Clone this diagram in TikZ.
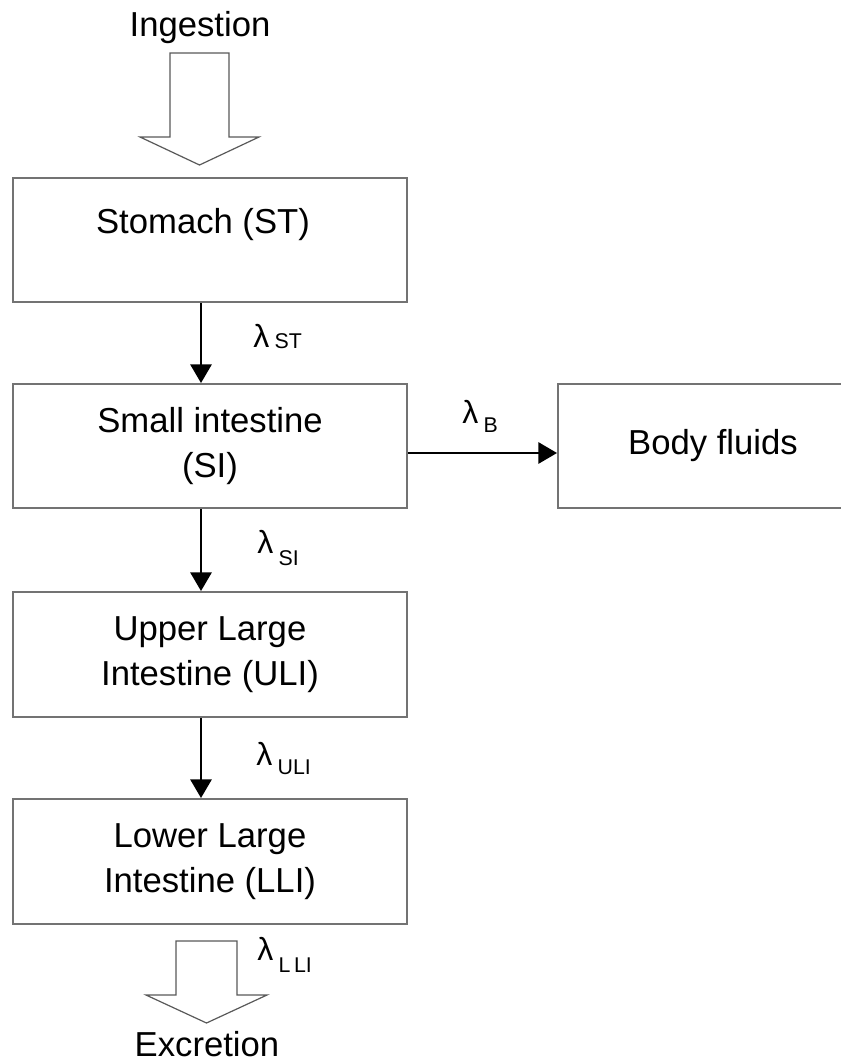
\documentclass[tikz,border=0pt]{standalone}
\usepackage{fontspec}
\setmainfont{Liberation Sans}
\usetikzlibrary{arrows.meta}
\newcommand{\lamsub}[2][7pt]{{\fontsize{24}{28}\selectfont λ}\hspace{4pt}\raisebox{-#1}{\fontsize{16}{18}\selectfont #2}}

\begin{document}
\begin{tikzpicture}[x=0.75pt,y=-0.75pt,
  box/.style={rectangle,draw=black!55,line width=1.5pt,minimum width=295.5pt,
    minimum height=93pt,inner sep=0pt,align=center,font=\fontsize{26}{33.75}\selectfont},
  txt/.style={inner sep=0pt,font=\fontsize{26}{33.75}\selectfont},
  rate/.style={inner sep=0pt,anchor=base west},
  flow/.style={line width=1.5pt,-{Triangle[length=14pt,width=16pt]}},
  hollow/.style={draw=black!65,line width=0.9pt,fill=white}]
  \useasboundingbox (0,0) rectangle (840,1063);

  \node[box] (st) at (210,240) {};
  \node[txt] (sttxt) at (203,225) {Stomach (ST)};
  \node[box] (si) at (210,446) {Small intestine\\(SI)};
  \node[box,minimum width=232.5pt] (bf) at (713,446) {Body fluids};
  \node[box,minimum height=93.75pt] (uli) at (210,654.5) {Upper Large\\Intestine (ULI)};
  \node[box,minimum height=93.75pt] (lli) at (210,861.5) {Lower Large\\Intestine (LLI)};

  \node[txt,anchor=base] (ingest) at (200,37) {Ingestion};
  \node[txt,anchor=base] (excrete) at (207,1056) {Excretion};

  % hollow in/out arrows
  \draw[hollow] (170,53) -- (229,53) -- (229,137) -- (259,137) -- (199.5,165)
    -- (140,137) -- (170,137) -- cycle;
  \draw[hollow] (176,941) -- (237,941) -- (237,995) -- (267,995) -- (206.5,1023)
    -- (146,995) -- (176,995) -- cycle;

  \draw[flow] ([xshift=-6.75pt]st.south) -- ([xshift=-6.75pt]si.north);
  \draw[flow] ([xshift=-6.75pt]si.south) -- ([xshift=-6.75pt]uli.north);
  \draw[flow] ([xshift=-6.75pt]uli.south) -- ([xshift=-6.75pt]lli.north);
  \draw[flow] ([yshift=-5.25pt]si.east) -- ([yshift=-5.25pt]si.east -| bf.west);

  \node[rate] (lst) at (253,347) {\lamsub[1pt]{ST}};
  \node[rate] (lsi) at (257,553) {\lamsub[9pt]{SI}};
  \node[rate] (luli) at (256,765) {\lamsub{ULI}};
  \node[rate] (lb) at (462,423) {\lamsub{B}};
  \node[rate] (llli) at (257,960) {\lamsub[9pt]{L\,LI}};
\end{tikzpicture}
\end{document}
